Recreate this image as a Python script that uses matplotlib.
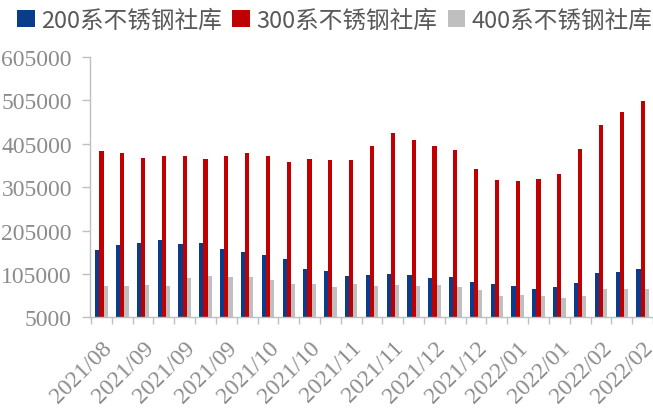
import matplotlib
matplotlib.use("Agg")
import matplotlib.pyplot as plt
import matplotlib.transforms as mtrans
import numpy as np

# 27 weekly observations, only every other one labelled
tick_labels = ["2021/08", "2021/09", "2021/09", "2021/09", "2021/10", "2021/10", "2021/11",
               "2021/11", "2021/12", "2021/12", "2022/01", "2022/01", "2022/02", "2022/02"]
s200 = [161100, 172700, 177300, 183500, 174300, 177300, 162700, 155100, 148200, 140300,
        116500, 111200, 100300, 103400, 105000, 103400, 95800, 97400, 85800, 81200,
        76600, 71100, 75000, 84200, 108000, 109600, 115900]
s300 = [387400, 384400, 372900, 375900, 375900, 369000, 377500, 383800, 375900, 363700,
        369000, 366700, 368300, 399900, 430600, 412900, 400600, 390700, 347500, 321400,
        319100, 323700, 334300, 393700, 448400, 479100, 503800]
s400 = [76600, 78000, 79600, 78000, 95100, 100300, 97400, 98800, 91100, 81900,
        81900, 75000, 81900, 77300, 78900, 76600, 80300, 75000, 68000, 53500,
        56500, 53500, 49600, 54200, 70400, 70400, 70400]
names = ["200系不锈钢社库", "300系不锈钢社库", "400系不锈钢社库"]
colors = ["#0B3C8C", "#C00000", "#BFBFBF"]

fig = plt.figure(figsize=(6.53, 4.10), dpi=100)
ax = fig.add_axes([90/653, 91.7/410, (653-90)/653, (352-91.7)/410])

x = np.arange(len(s300))
w = 0.2
bars = []
for k, s in enumerate([s200, s300, s400]):
    b = ax.bar(x + (k-1)*w, s, width=w, color=colors[k], zorder=2)
    bars.append(b)

ax.set_ylim(5000, 605000)
ax.set_yticks(np.arange(5000, 605001, 100000))
ax.set_xlim(-0.55, -0.55 + (653-90)/20.95)

# ticks at group boundaries, labels on every other group
ax.set_xticks(np.arange(len(x)+1) - 0.5, minor=False)
ax.set_xticklabels([])
ax.set_xticks(x[::2], minor=True)
ax.set_xticklabels(tick_labels, minor=True, rotation=45, ha="right", va="top",
                   rotation_mode="anchor", fontsize=17, family="Liberation Serif", color="#8C8C8C")
shift = mtrans.ScaledTranslation(4/100, 0, fig.dpi_scale_trans)
for t in ax.get_xticklabels(minor=True):
    t.set_transform(t.get_transform() + shift)
ax.tick_params(axis="x", which="minor", length=0, pad=14)
ax.tick_params(axis="x", which="major", length=5, color="#BFBFBF", width=1)
ax.tick_params(axis="y", length=6, color="#BFBFBF", width=1, labelsize=17, labelcolor="#8C8C8C", pad=7)
for t in ax.get_yticklabels():
    t.set_family("Liberation Serif")

for side in ["top", "right"]:
    ax.spines[side].set_visible(False)
for side in ["left", "bottom"]:
    ax.spines[side].set_color("#BFBFBF")
    ax.spines[side].set_linewidth(1)

fig.legend(bars, names, loc="upper left", bbox_to_anchor=(0.005, 1.01), ncol=3, frameon=False,
           prop={"family": ["Noto Sans CJK SC", "DejaVu Sans"], "size": 17},
           handlelength=0.75, handleheight=0.75, handletextpad=0.25, columnspacing=0.45,
           labelcolor="#595959", borderaxespad=0.2)

fig.savefig("out.png", dpi=100)
